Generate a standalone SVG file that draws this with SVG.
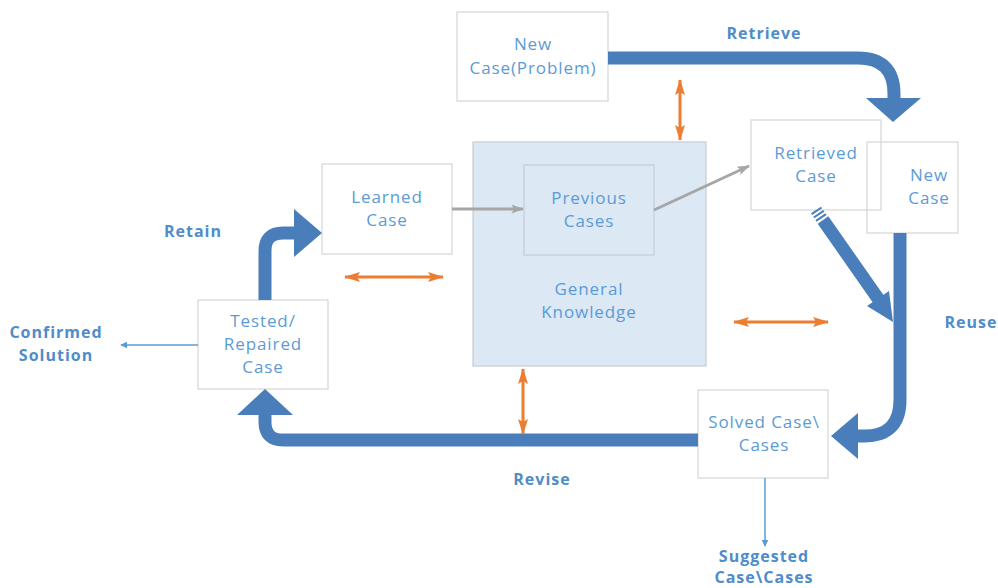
<svg xmlns="http://www.w3.org/2000/svg" width="998" height="588" viewBox="0 0 998 588">
<defs>
<style>
.box{fill:#fff;stroke:#d6d6d6;stroke-width:1.2}
.ov{fill:none;stroke:#d6d6d6;stroke-width:1.2}
.t{font-family:"Open Sans","Noto Sans",sans-serif;font-size:17px;letter-spacing:0.9px;fill:#5b9bd5;text-anchor:middle}
.lb{font-family:"Open Sans","Noto Sans",sans-serif;font-size:16px;letter-spacing:1px;font-weight:bold;fill:#4f8cc9;text-anchor:middle}
.thick{fill:none;stroke:#4a7ebb;stroke-width:13}
.head{fill:#4a7ebb}
.thin{stroke:#5b9bd5;stroke-width:1.5;fill:none}
.orange{stroke:#ed7d31;stroke-width:3;fill:none}
.grey{stroke:#a6a6a6;stroke-width:3;fill:none}
</style>
<marker id="tb" viewBox="0 0 10 10" refX="9" refY="5" markerWidth="7" markerHeight="7" orient="auto" markerUnits="userSpaceOnUse"><path d="M0,0 L10,5 L0,10 z" fill="#5b9bd5"/></marker>
<marker id="oe" viewBox="0 0 16 10" refX="15" refY="5" markerWidth="16" markerHeight="10" orient="auto-start-reverse" markerUnits="userSpaceOnUse"><path d="M0,0 L16,5 L0,10 L3,5 z" fill="#ed7d31"/></marker>
<marker id="ge" viewBox="0 0 14 10" refX="13" refY="5" markerWidth="14" markerHeight="9" orient="auto" markerUnits="userSpaceOnUse"><path d="M0,0 L14,5 L0,10 L3,5 z" fill="#a6a6a6"/></marker>
</defs>
<rect width="998" height="588" fill="#fff"/>

<g id="general-knowledge">
<rect x="473" y="142" width="233" height="224" fill="#dce8f4" stroke="#c6ccd3" stroke-width="1.2"/>
<text class="t" x="589" y="295">General</text>
<text class="t" x="589" y="318">Knowledge</text>
</g>
<g id="previous-cases">
<rect x="524" y="165" width="130" height="90" fill="#dce8f4" stroke="#c6ccd3" stroke-width="1.2"/>
<text class="t" x="589" y="204">Previous</text>
<text class="t" x="589" y="227">Cases</text>
</g>
<g id="new-case-problem">
<rect class="box" x="457" y="12" width="151" height="89"/>
<text class="t" x="533" y="50">New</text>
<text class="t" x="533" y="74">Case(Problem)</text>
</g>
<g id="retrieved-case">
<rect class="ov" x="751" y="120" width="130" height="90"/>
<text class="t" x="816" y="159">Retrieved</text>
<text class="t" x="816" y="182">Case</text>
</g>
<g id="new-case">
<rect class="ov" x="867" y="142" width="91" height="91"/>
<text class="t" x="929" y="181">New</text>
<text class="t" x="929" y="204">Case</text>
</g>
<g id="learned-case">
<rect class="box" x="322" y="164" width="130" height="90"/>
<text class="t" x="387" y="203">Learned</text>
<text class="t" x="387" y="226">Case</text>
</g>
<g id="tested-case">
<rect class="box" x="198" y="300" width="130" height="89"/>
<text class="t" x="263" y="327">Tested/</text>
<text class="t" x="263" y="350">Repaired</text>
<text class="t" x="263" y="373">Case</text>
</g>
<g id="solved-case">
<rect class="box" x="698" y="390" width="130" height="88"/>
<text class="t" x="764" y="428">Solved Case\</text>
<text class="t" x="764" y="451">Cases</text>
</g>

<g id="labels">
<text class="lb" x="764" y="39">Retrieve</text>
<text class="lb" x="971" y="328">Reuse</text>
<text class="lb" x="542" y="485">Revise</text>
<text class="lb" x="193" y="237">Retain</text>
<text class="lb" x="56" y="338">Confirmed</text>
<text class="lb" x="56" y="361">Solution</text>
<text class="lb" x="764" y="562">Suggested</text>
<text class="lb" x="764" y="583">Case\Cases</text>
</g>

<g id="connectors">
<path class="thick" d="M608,58 H858 Q894,58 894,94 V99"/>
<polygon class="head" points="866,98 921,98 893,122"/>
<line x1="816" y1="210" x2="822" y2="219" stroke="#4a7ebb" stroke-width="12" stroke-dasharray="2 2"/>
<path class="thick" d="M823,220 L879,300"/>
<polygon class="head" points="889,291 867,306 893,322"/>
<path class="thick" d="M900,233 V400 Q900,436 864,436 H857"/>
<polygon class="head" points="858,413 858,459 831,436"/>
<path class="thick" d="M698,440 H283 Q265,440 265,422 V414"/>
<polygon class="head" points="237,415 293,415 265,389"/>
<path class="thick" d="M265,300 V251 Q265,233 283,233 H296"/>
<polygon class="head" points="294,209 294,257 322,233"/>
<line class="thin" x1="198" y1="345" x2="121" y2="345" marker-end="url(#tb)"/>
<line class="thin" x1="765" y1="478" x2="765" y2="546" marker-end="url(#tb)"/>
<line class="orange" x1="680" y1="80" x2="680" y2="140" marker-start="url(#oe)" marker-end="url(#oe)"/>
<line class="orange" x1="345" y1="277" x2="443" y2="277" marker-start="url(#oe)" marker-end="url(#oe)"/>
<line class="orange" x1="734" y1="322" x2="828" y2="322" marker-start="url(#oe)" marker-end="url(#oe)"/>
<line class="orange" x1="523" y1="369" x2="523" y2="434" marker-start="url(#oe)" marker-end="url(#oe)"/>
<line class="grey" x1="452" y1="209" x2="523" y2="209" marker-end="url(#ge)"/>
<line class="grey" x1="654" y1="210" x2="749" y2="166" marker-end="url(#ge)"/>
</g>
</svg>
